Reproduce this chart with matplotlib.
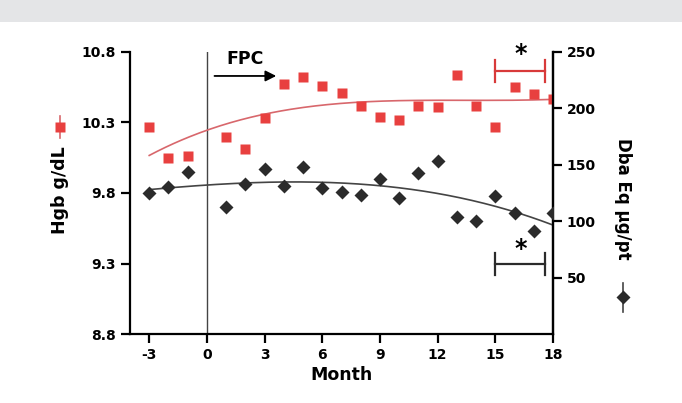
import numpy as np
import matplotlib
matplotlib.use("Agg")
import matplotlib.pyplot as plt
from matplotlib.lines import Line2D
from matplotlib.patches import Rectangle

plt.rcParams['font.family'] = ['DejaVu Sans']
plt.rcParams['font.weight'] = 'bold'
plt.rcParams['axes.unicode_minus'] = False

months = [-3, -2, -1, 1, 2, 3, 4, 5, 6, 7, 8, 9, 10, 11, 12, 13, 14, 15, 16, 17, 18]
hgb = [10.27, 10.05, 10.06, 10.20, 10.11, 10.33, 10.57, 10.62, 10.56, 10.51, 10.42,
       10.34, 10.32, 10.42, 10.41, 10.64, 10.42, 10.27, 10.55, 10.50, 10.47]
dba = [125, 130, 144, 113, 133, 146, 131, 148, 129, 126, 123,
       137, 121, 143, 153, 104, 100, 122, 107, 91, 107]

x_ticks = [-3, 0, 3, 6, 9, 12, 15, 18]
left_ticks = [8.8, 9.3, 9.8, 10.3, 10.8]
right_ticks = [50, 100, 150, 200, 250]

RED = '#e8403f'
RED_LINE = '#d8676c'
BLACK = '#2b2b2b'

fig = plt.figure(figsize=(6.82, 4.03), dpi=100)
fig.patches.append(Rectangle((0, 0.945), 1, 0.055, transform=fig.transFigure,
                             facecolor='#e4e5e7', edgecolor='none', zorder=0))

ax = fig.add_axes([0.1906, 0.1712, 0.8109 - 0.1906, 0.871 - 0.1712])
ax2 = ax.twinx()

# cubic trend fits of each series
xs = np.linspace(-3, 18, 200)
ph = np.polyfit(months, hgb, 3)
pd_ = np.polyfit(months, dba, 3)

ax.plot(xs, np.polyval(ph, xs), color=RED_LINE, lw=1.2, zorder=2)
ax.plot(months, hgb, 's', color=RED, ms=6.5, mec='none', zorder=3)
ax2.plot(xs, np.polyval(pd_, xs), color='#444444', lw=1.2, zorder=2)
ax2.plot(months, dba, 'D', color=BLACK, ms=7, mec='none', zorder=3)

ax.set_xlim(-4, 18)
ax.set_ylim(8.8, 10.8)
ax2.set_ylim(0, 250)
ax.set_xticks(x_ticks)
ax.set_yticks(left_ticks)
ax2.set_yticks(right_ticks)
ax.set_yticklabels(['8.8', '9.3', '9.8', '10.3', '10.8'])

for a in (ax, ax2):
    for s in a.spines.values():
        s.set_linewidth(1.6)
        s.set_color('black')
    a.spines['top'].set_visible(False)
    a.tick_params(direction='out', length=6.5, width=1.6, labelsize=10, colors='black', pad=3.5)
ax2.spines['left'].set_visible(False)
ax2.spines['bottom'].set_visible(False)

ax.set_xlabel('Month', fontsize=12.5, fontweight='bold', labelpad=3)

# vertical line at 0
ax.axvline(0, color='#444444', lw=1.0, zorder=1)
ax.text(1.0, 10.715, 'FPC', fontsize=12.5, fontweight='bold', ha='left', va='baseline')
ax.annotate('', xy=(3.75, 10.63), xytext=(0.25, 10.63),
            arrowprops=dict(arrowstyle='-|>', color='black', lw=1.3, mutation_scale=16))

# significance brackets
ax.plot([15, 17.6], [10.665, 10.665], color='#d83a3a', lw=1.6)
ax.plot([15, 15], [10.585, 10.745], color='#d83a3a', lw=1.6)
ax.plot([17.6, 17.6], [10.585, 10.745], color='#d83a3a', lw=1.6)
ax.text(16.3, 10.70, '*', fontsize=17, fontweight='bold', ha='center', va='bottom')

ax2.plot([15, 17.6], [62, 62], color=BLACK, lw=1.6)
ax2.plot([15, 15], [52, 72], color=BLACK, lw=1.6)
ax2.plot([17.6, 17.6], [52, 72], color=BLACK, lw=1.6)
ax2.text(16.3, 65, '*', fontsize=17, fontweight='bold', ha='center', va='bottom')

# y labels with legend-like markers
fig.text(60 / 682, 1 - 190 / 403, 'Hgb g/dL', rotation=90, fontsize=12.5,
         fontweight='bold', ha='center', va='center')
fig.add_artist(Line2D([60 / 682, 60 / 682], [1 - 116 / 403, 1 - 138 / 403],
                      color=RED_LINE, lw=1.2, transform=fig.transFigure))
fig.add_artist(Line2D([60 / 682], [1 - 127 / 403], marker='s', color=RED, ms=6.5,
                      mec='none', transform=fig.transFigure))

fig.text(623 / 682, 1 - 199 / 403, 'Dba Eq µg/pt', rotation=-90, fontsize=12,
         fontweight='bold', ha='center', va='center')
fig.add_artist(Line2D([623 / 682, 623 / 682], [1 - 283 / 403, 1 - 312 / 403],
                      color='#444444', lw=1.2, transform=fig.transFigure))
fig.add_artist(Line2D([623 / 682], [1 - 297 / 403], marker='D', color=BLACK, ms=7,
                      mec='none', transform=fig.transFigure))

fig.savefig('out.png', dpi=100)
